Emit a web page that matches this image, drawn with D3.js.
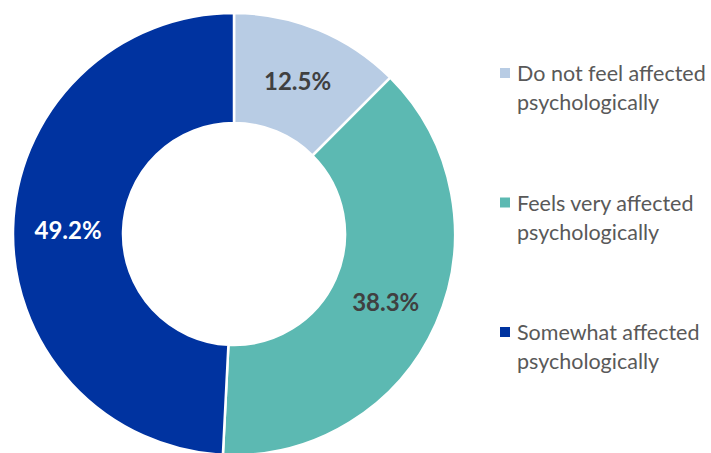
<!DOCTYPE html>
<html lang="en">
<head>
<meta charset="UTF-8">
<title>Psychological effect</title>
<script src="https://d3js.org/d3.v7.min.js"></script>
<style>
  body { margin: 0; background: #fff; }
  svg { font-family: Lato, "Open Sans", sans-serif; }
</style>
</head>
<body>
<div id="chart"></div>
<script>
// data
var categories = ['Do not feel affected psychologically', 'Feels very affected psychologically', 'Somewhat affected psychologically'];
var legendLines = [['Do not feel affected', 'psychologically'], ['Feels very affected', 'psychologically'], ['Somewhat affected', 'psychologically']];
var values = [12.5, 38.3, 49.2];
var colors = ['#b8cce4', '#5cb9b2', '#0033a0'];
var labelColors = ['#404040', '#404040', '#ffffff'];

var W = 711, H = 453;
var cx = 234, cy = 234, outerR = 221, innerR = 111;

var svg = d3.select('#chart').append('svg')
    .attr('width', W)
    .attr('height', H);

var pie = d3.pie().sort(null).value(d => d);
var arc = d3.arc().innerRadius(innerR).outerRadius(outerR);
var labelArc = d3.arc().innerRadius(166).outerRadius(166);

var g = svg.append('g').attr('transform', 'translate(' + cx + ',' + cy + ')');
var arcs = pie(values);

g.selectAll('path')
    .data(arcs)
    .enter().append('path')
    .attr('d', arc)
    .attr('fill', (d, i) => colors[i])
    .attr('stroke', '#fff')
    .attr('stroke-width', 2.5);

g.selectAll('text.lbl')
    .data(arcs)
    .enter().append('text')
    .attr('class', 'lbl')
    .attr('transform', d => 'translate(' + labelArc.centroid(d) + ')')
    .attr('text-anchor', 'middle')
    .attr('dominant-baseline', 'central')
    .attr('font-size', 24)
    .attr('font-weight', 'bold')
    .attr('fill', (d, i) => labelColors[i])
    .text(d => d.data.toFixed(1) + '%');

// legend
var legendY = d3.scalePoint().domain(categories).range([73, 332]);
var leg = svg.selectAll('g.leg')
    .data(categories)
    .enter().append('g')
    .attr('class', 'leg')
    .attr('transform', d => 'translate(500,' + legendY(d) + ')');

leg.append('rect')
    .attr('x', 0).attr('y', -5)
    .attr('width', 10).attr('height', 10)
    .attr('fill', (d, i) => colors[i]);

leg.append('text')
    .attr('x', 17)
    .attr('font-size', 21.5)
    .attr('fill', '#595959')
    .selectAll('tspan')
    .data((d, i) => legendLines[i])
    .enter().append('tspan')
    .attr('x', 17)
    .attr('y', (d, j) => j * 29)
    .attr('dominant-baseline', 'central')
    .text(d => d);
</script>
</body>
</html>
